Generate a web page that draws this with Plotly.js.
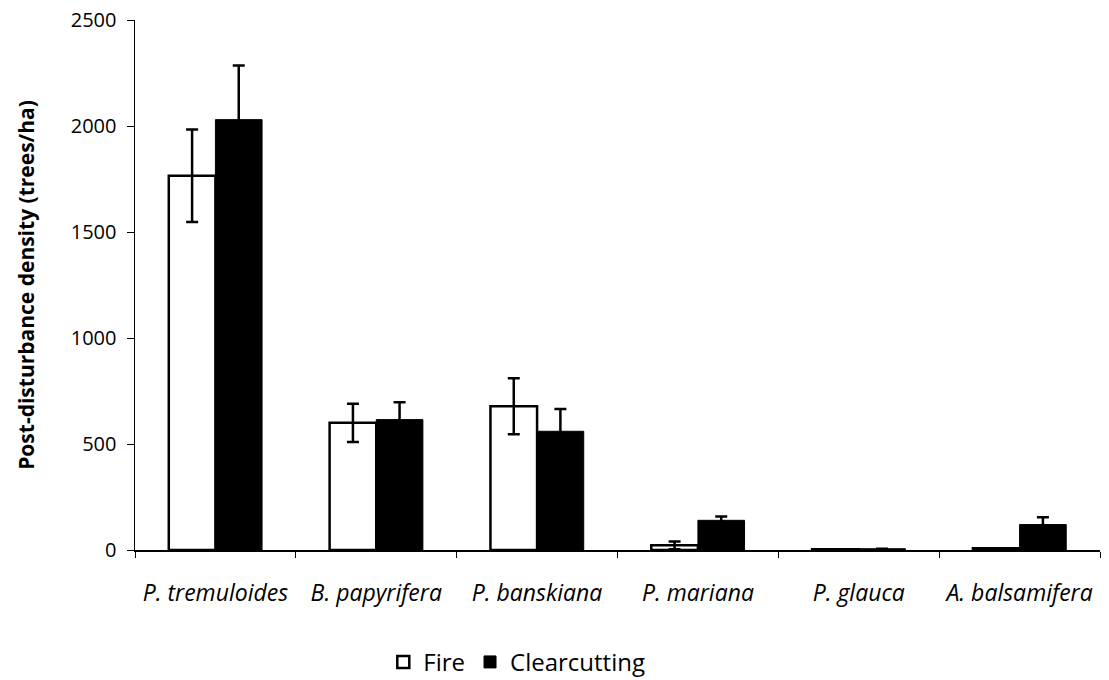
<!DOCTYPE html>
<html><head><meta charset="utf-8">
<script src="https://cdn.plot.ly/plotly-3.0.1.min.js"></script>
<style>body{margin:0;background:#fff}#c{width:1109px;height:680px}</style>
</head><body><div id="c"></div>
<script>
const species = ['P. tremuloides','B. papyrifera','P. banskiana','P. mariana','P. glauca','A. balsamifera'];
const fireValues = [1765, 600, 678, 22, 3, 8];
const fireErrors = [218, 90, 132, 18, 0, 0];
const clearValues = [2030, 615, 560, 140, 6, 120];
const clearErrors = [255, 82, 105, 18, 0, 35];
const tickLabels = species.map(s => '<i>' + s + '</i>');

const font = 'Open Sans, Noto Sans, sans-serif';
const traces = [
  {type:'bar', name:'Fire', x:tickLabels, y:fireValues,
   marker:{color:'#ffffff', line:{color:'#000', width:2.5}},
   error_y:{type:'data', array:fireErrors, visible:true, color:'#000', thickness:2.5, width:6}},
  {type:'bar', name:'Clearcutting', x:tickLabels, y:clearValues,
   marker:{color:'#000000', line:{color:'#000', width:1}},
   error_y:{type:'data', array:clearErrors, visible:true, color:'#000', thickness:2.5, width:6}}
];
const layout = {
  width:1109, height:680,
  margin:{l:135, r:9, t:20, b:130},
  paper_bgcolor:'#fff', plot_bgcolor:'#fff',
  barmode:'group', bargap:0.42, bargroupgap:0,
  font:{family:font, color:'#000', size:20},
  showlegend:true,
  legend:{orientation:'h', x:0.466, xref:'container', xanchor:'center',
          y:0.026, yref:'container', yanchor:'middle',
          font:{size:24, family:font}, itemwidth:30, traceorder:'normal'},
  xaxis:{type:'category', showline:true, linecolor:'#000', linewidth:1.5,
         ticks:'outside', tickson:'boundaries', ticklen:6, tickcolor:'#000',
         tickfont:{size:23, family:font}, ticklabelstandoff:22,
         showgrid:false, zeroline:false, automargin:false},
  yaxis:{range:[0,2500], dtick:500, showline:true, linecolor:'#000', linewidth:1.5,
         ticks:'outside', ticklen:7, tickcolor:'#000', showgrid:false, zeroline:false,
         tickfont:{size:20, family:font}, ticklabelstandoff:6, automargin:false,
         title:{text:'<b>Post-disturbance density (trees/ha)</b>', font:{size:21, family:font}, standoff:30}}
};
Plotly.newPlot('c', traces, layout, {displayModeBar:false, staticPlot:true});
</script></body></html>
